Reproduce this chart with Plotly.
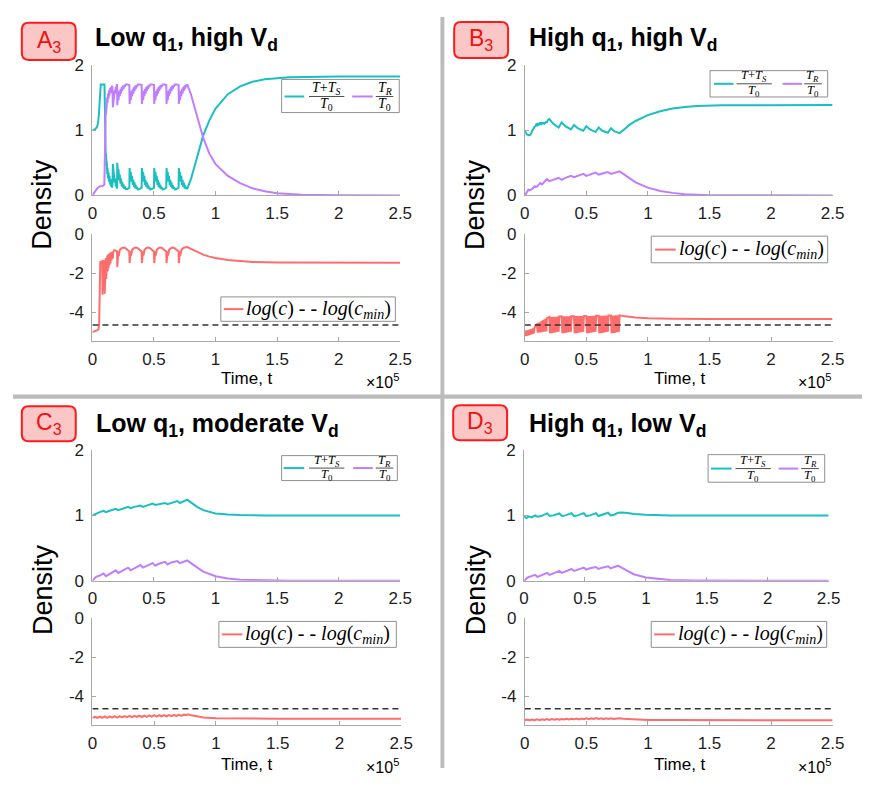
import plotly.graph_objects as go

# page is 882x786; the browser's default 8px body margin surrounds the figure
PAGE_W, PAGE_H, PAD = 882, 786, 8
W, H = PAGE_W - 2 * PAD, PAGE_H - 2 * PAD

# ---------------- data (time in units of 1e5) ----------------
a_cyan = [(0.000,1.00),(0.020,1.01),(0.035,1.04),(0.045,1.10),(0.052,1.22),(0.058,1.45),(0.063,1.64),(0.068,1.70),(0.098,1.70),
    (0.101,1.24),(0.103,1.20),(0.104,0.88),(0.106,0.91),(0.108,0.60),(0.111,0.64),(0.114,0.45),(0.117,0.52),(0.120,0.33),(0.123,0.42),
    (0.127,0.26),(0.131,0.35),(0.135,0.21),(0.139,0.30),(0.143,0.17),(0.147,0.25),(0.151,0.14),(0.155,0.21),(0.159,0.12),(0.163,0.17),
    (0.166,0.48),(0.172,0.30),(0.176,0.36),(0.181,0.20),(0.185,0.26),(0.190,0.14),(0.194,0.18),(0.198,0.12),
    (0.200,0.12),(0.202,0.50),(0.208,0.30),(0.212,0.40),(0.218,0.23),(0.222,0.32),(0.228,0.18),(0.232,0.26),(0.238,0.14),(0.242,0.21),(0.248,0.12),(0.252,0.17),(0.258,0.10),(0.262,0.14),(0.270,0.10),(0.285,0.10),(0.298,0.11),
    (0.300,0.12),(0.302,0.42),(0.308,0.27),(0.312,0.36),(0.318,0.21),(0.322,0.30),(0.328,0.16),(0.332,0.24),(0.338,0.13),(0.342,0.20),(0.348,0.11),(0.352,0.16),(0.358,0.10),(0.362,0.13),(0.370,0.09),(0.385,0.10),(0.398,0.11),
    (0.400,0.12),(0.402,0.42),(0.408,0.27),(0.412,0.36),(0.418,0.21),(0.422,0.30),(0.428,0.16),(0.432,0.24),(0.438,0.13),(0.442,0.20),(0.448,0.11),(0.452,0.16),(0.458,0.10),(0.462,0.13),(0.470,0.09),(0.485,0.10),(0.498,0.11),
    (0.500,0.12),(0.502,0.42),(0.508,0.27),(0.512,0.36),(0.518,0.21),(0.522,0.30),(0.528,0.16),(0.532,0.24),(0.538,0.13),(0.542,0.20),(0.548,0.11),(0.552,0.16),(0.558,0.10),(0.562,0.13),(0.570,0.09),(0.585,0.10),(0.598,0.11),
    (0.600,0.12),(0.602,0.42),(0.608,0.27),(0.612,0.36),(0.618,0.21),(0.622,0.30),(0.628,0.16),(0.632,0.24),(0.638,0.13),(0.642,0.20),(0.648,0.11),(0.652,0.16),(0.658,0.10),(0.662,0.13),(0.670,0.09),(0.685,0.10),(0.698,0.11),
    (0.700,0.12),(0.702,0.42),(0.708,0.27),(0.712,0.36),(0.718,0.21),(0.722,0.30),(0.728,0.16),(0.732,0.24),(0.738,0.13),(0.742,0.20),(0.748,0.11),(0.752,0.16),(0.758,0.10),(0.762,0.13),(0.770,0.10),
    (0.800,0.25),(0.850,0.60),(0.900,0.92),(0.950,1.15),(1.000,1.33),(1.100,1.55),(1.200,1.67),(1.300,1.74),(1.400,1.78),(1.600,1.81),(2.000,1.82),(2.500,1.82)]

a_purple = [(0.000,0.00),(0.020,0.06),(0.040,0.11),(0.060,0.14),(0.090,0.15),(0.097,0.17),(0.100,0.58),(0.102,0.60),(0.104,0.98),(0.106,0.95),
    (0.108,1.30),(0.111,1.24),(0.114,1.42),(0.117,1.36),(0.120,1.50),(0.123,1.42),(0.127,1.56),(0.131,1.48),(0.135,1.61),(0.139,1.53),
    (0.143,1.64),(0.147,1.57),(0.151,1.66),(0.155,1.60),(0.159,1.68),(0.163,1.64),(0.166,1.35),(0.172,1.52),(0.176,1.46),(0.181,1.61),
    (0.185,1.56),(0.190,1.66),(0.194,1.63),(0.198,1.69),
    (0.200,1.69),(0.202,1.38),(0.208,1.55),(0.212,1.46),(0.218,1.60),(0.222,1.52),(0.228,1.63),(0.232,1.56),(0.238,1.66),(0.242,1.60),(0.248,1.68),(0.252,1.63),(0.258,1.69),(0.262,1.66),(0.270,1.70),(0.285,1.70),(0.298,1.70),
    (0.300,1.69),(0.302,1.40),(0.308,1.55),(0.312,1.46),(0.318,1.60),(0.322,1.52),(0.328,1.63),(0.332,1.56),(0.338,1.66),(0.342,1.60),(0.348,1.68),(0.352,1.63),(0.358,1.69),(0.362,1.66),(0.370,1.70),(0.385,1.70),(0.398,1.70),
    (0.400,1.69),(0.402,1.40),(0.408,1.55),(0.412,1.46),(0.418,1.60),(0.422,1.52),(0.428,1.63),(0.432,1.56),(0.438,1.66),(0.442,1.60),(0.448,1.68),(0.452,1.63),(0.458,1.69),(0.462,1.66),(0.470,1.70),(0.485,1.70),(0.498,1.70),
    (0.500,1.69),(0.502,1.40),(0.508,1.55),(0.512,1.46),(0.518,1.60),(0.522,1.52),(0.528,1.63),(0.532,1.56),(0.538,1.66),(0.542,1.60),(0.548,1.68),(0.552,1.63),(0.558,1.69),(0.562,1.66),(0.570,1.70),(0.585,1.70),(0.598,1.70),
    (0.600,1.69),(0.602,1.40),(0.608,1.55),(0.612,1.46),(0.618,1.60),(0.622,1.52),(0.628,1.63),(0.632,1.56),(0.638,1.66),(0.642,1.60),(0.648,1.68),(0.652,1.63),(0.658,1.69),(0.662,1.66),(0.670,1.70),(0.685,1.70),(0.698,1.70),
    (0.700,1.69),(0.702,1.40),(0.708,1.55),(0.712,1.46),(0.718,1.60),(0.722,1.52),(0.728,1.63),(0.732,1.56),(0.738,1.66),(0.742,1.60),(0.748,1.68),(0.752,1.63),(0.758,1.69),(0.762,1.66),(0.770,1.70),
    (0.800,1.55),(0.850,1.22),(0.900,0.88),(0.950,0.64),(1.000,0.48),(1.100,0.30),(1.200,0.19),(1.300,0.11),(1.400,0.065),(1.500,0.035),(1.700,0.012),(2.000,0.003),(2.500,0.0)]

a_logc = [(0.000,-5.02),(0.020,-4.98),(0.040,-4.92),(0.050,-4.86),(0.055,-4.60),(0.058,-3.50),(0.061,-2.20),(0.064,-1.42),(0.080,-1.38),
    (0.082,-3.10),(0.085,-1.42),(0.088,-2.90),(0.091,-1.38),(0.094,-2.60),(0.097,-1.33),(0.100,-3.05),(0.103,-1.28),(0.106,-2.60),(0.109,-1.22),
    (0.112,-2.30),(0.115,-1.16),(0.118,-2.10),(0.121,-1.10),(0.124,-1.90),(0.127,-1.05),(0.130,-1.75),(0.134,-1.00),(0.138,-1.60),(0.142,-0.96),
    (0.146,-1.50),(0.150,-0.93),(0.155,-1.35),(0.160,-0.90),(0.165,-1.25),(0.170,-0.88),(0.180,-0.82),(0.190,-0.84),
    (0.200,-0.88),(0.202,-1.68),(0.205,-0.95),(0.208,-1.35),(0.211,-0.88),(0.214,-1.12),(0.217,-0.83),(0.220,-0.97),(0.223,-0.80),(0.235,-0.73),(0.250,-0.68),(0.265,-0.70),(0.280,-0.76),(0.298,-0.86),
    (0.300,-0.88),(0.302,-1.48),(0.305,-0.95),(0.308,-1.28),(0.311,-0.88),(0.314,-1.10),(0.317,-0.83),(0.320,-0.97),(0.323,-0.80),(0.335,-0.73),(0.350,-0.68),(0.365,-0.70),(0.380,-0.76),(0.398,-0.86),
    (0.400,-0.88),(0.402,-1.48),(0.405,-0.95),(0.408,-1.28),(0.411,-0.88),(0.414,-1.10),(0.417,-0.83),(0.420,-0.97),(0.423,-0.80),(0.435,-0.73),(0.450,-0.68),(0.465,-0.70),(0.480,-0.76),(0.498,-0.86),
    (0.500,-0.88),(0.502,-1.48),(0.505,-0.95),(0.508,-1.28),(0.511,-0.88),(0.514,-1.10),(0.517,-0.83),(0.520,-0.97),(0.523,-0.80),(0.535,-0.73),(0.550,-0.68),(0.565,-0.70),(0.580,-0.76),(0.598,-0.86),
    (0.600,-0.88),(0.602,-1.48),(0.605,-0.95),(0.608,-1.28),(0.611,-0.88),(0.614,-1.10),(0.617,-0.83),(0.620,-0.97),(0.623,-0.80),(0.635,-0.73),(0.650,-0.68),(0.665,-0.70),(0.680,-0.76),(0.698,-0.86),
    (0.700,-0.88),(0.702,-1.48),(0.705,-0.95),(0.708,-1.28),(0.711,-0.88),(0.714,-1.10),(0.717,-0.83),(0.720,-0.97),(0.723,-0.80),(0.735,-0.73),(0.750,-0.68),(0.770,-0.66),
    (0.800,-0.76),(0.850,-0.92),(0.900,-1.05),(0.950,-1.15),(1.000,-1.22),(1.100,-1.32),(1.200,-1.38),(1.300,-1.42),(1.500,-1.45),(2.000,-1.46),(2.500,-1.46)]

b_cyan = [(0.000,0.99),(0.010,0.95),(0.020,0.93),(0.040,0.92),(0.050,0.94),(0.060,0.99),(0.070,1.03),(0.080,1.05),(0.090,1.07),
    (0.095,1.10),(0.100,1.06),(0.105,1.11),(0.110,1.07),(0.115,1.11),(0.120,1.08),(0.125,1.12),(0.130,1.08),(0.135,1.12),(0.140,1.09),
    (0.145,1.12),(0.150,1.09),(0.155,1.12),(0.160,1.10),(0.170,1.12),(0.180,1.12),(0.190,1.16),(0.200,1.17),
    (0.230,1.10),(0.275,1.04),(0.300,1.12),(0.330,1.06),(0.375,1.01),(0.400,1.08),(0.430,1.03),(0.475,0.99),(0.500,1.06),
    (0.530,1.01),(0.575,0.97),(0.600,1.04),(0.630,0.99),(0.675,0.96),(0.700,1.03),(0.730,0.98),(0.770,0.955),
    (0.800,1.00),(0.850,1.08),(0.900,1.14),(0.950,1.19),(1.000,1.23),(1.100,1.29),(1.200,1.33),(1.300,1.355),(1.400,1.37),(1.600,1.38),(2.000,1.385),(2.500,1.385)]

b_purple = [(0.000,0.00),(0.015,0.05),(0.030,0.09),(0.040,0.08),(0.060,0.10),(0.080,0.14),(0.090,0.13),(0.100,0.14),(0.125,0.19),(0.140,0.17),
    (0.180,0.25),(0.200,0.22),(0.230,0.24),(0.275,0.27),(0.300,0.24),(0.330,0.27),(0.375,0.30),(0.400,0.28),(0.430,0.30),(0.475,0.33),
    (0.500,0.30),(0.530,0.32),(0.575,0.35),(0.600,0.32),(0.630,0.34),(0.675,0.36),(0.700,0.33),(0.730,0.35),(0.770,0.37),
    (0.800,0.33),(0.850,0.26),(0.900,0.20),(1.000,0.12),(1.100,0.07),(1.200,0.04),(1.300,0.02),(1.500,0.005),(2.000,0.0),(2.500,0.0)]

b_logc = [(0.000,-4.95),(0.005,-5.22),(0.010,-4.94),(0.015,-5.21),(0.020,-4.93),(0.025,-5.20),(0.030,-4.91),(0.035,-5.18),(0.040,-4.89),
    (0.045,-5.16),(0.050,-4.87),(0.055,-5.14),(0.060,-4.85),(0.065,-5.11),(0.070,-4.82),(0.075,-5.08),(0.078,-4.80),(0.090,-4.68),
    (0.100,-4.60),(0.105,-5.05),(0.110,-4.56),(0.115,-5.04),(0.120,-4.52),(0.125,-5.03),(0.130,-4.48),(0.135,-5.02),(0.140,-4.44),
    (0.145,-5.01),(0.150,-4.40),(0.155,-5.00),(0.160,-4.36),(0.165,-4.99),(0.170,-4.33),(0.175,-4.98),(0.180,-4.30),
    (0.200,-4.24),(0.205,-5.08),(0.210,-4.24),(0.215,-5.07),(0.220,-4.24),(0.225,-5.06),(0.230,-4.23),(0.235,-5.05),(0.240,-4.23),
    (0.245,-5.04),(0.250,-4.23),(0.255,-5.02),(0.260,-4.23),(0.265,-5.01),(0.270,-4.22),(0.275,-5.00),(0.280,-4.22),
    (0.300,-4.21),(0.305,-5.08),(0.310,-4.21),(0.315,-5.07),(0.320,-4.21),(0.325,-5.06),(0.330,-4.21),(0.335,-5.05),(0.340,-4.21),
    (0.345,-5.04),(0.350,-4.21),(0.355,-5.02),(0.360,-4.21),(0.365,-5.01),(0.370,-4.20),(0.375,-5.00),(0.380,-4.20),
    (0.400,-4.20),(0.405,-5.08),(0.410,-4.20),(0.415,-5.07),(0.420,-4.20),(0.425,-5.06),(0.430,-4.20),(0.435,-5.05),(0.440,-4.20),
    (0.445,-5.04),(0.450,-4.20),(0.455,-5.02),(0.460,-4.19),(0.465,-5.01),(0.470,-4.19),(0.475,-5.00),(0.480,-4.19),
    (0.500,-4.19),(0.505,-5.08),(0.510,-4.19),(0.515,-5.07),(0.520,-4.19),(0.525,-5.06),(0.530,-4.19),(0.535,-5.05),(0.540,-4.19),
    (0.545,-5.04),(0.550,-4.18),(0.555,-5.02),(0.560,-4.18),(0.565,-5.01),(0.570,-4.18),(0.575,-5.00),(0.580,-4.18),
    (0.600,-4.18),(0.605,-5.08),(0.610,-4.18),(0.615,-5.07),(0.620,-4.18),(0.625,-5.06),(0.630,-4.18),(0.635,-5.05),(0.640,-4.18),
    (0.645,-5.04),(0.650,-4.17),(0.655,-5.02),(0.660,-4.17),(0.665,-5.01),(0.670,-4.17),(0.675,-5.00),(0.680,-4.17),
    (0.700,-4.17),(0.705,-5.08),(0.710,-4.17),(0.715,-5.07),(0.720,-4.17),(0.725,-5.06),(0.730,-4.17),(0.735,-5.05),(0.740,-4.16),
    (0.745,-5.03),(0.750,-4.16),(0.755,-5.02),(0.760,-4.16),(0.765,-5.00),(0.770,-4.16),
    (0.800,-4.19),(0.850,-4.23),(0.900,-4.27),(1.000,-4.31),(1.100,-4.33),(1.200,-4.34),(1.500,-4.35),(2.500,-4.35)]

c_cyan = [(0.00,1.00),(0.03,1.03),(0.06,1.05),(0.09,1.07),(0.11,1.05),(0.14,1.07),(0.19,1.10),(0.21,1.08),(0.24,1.10),(0.29,1.13),
    (0.31,1.11),(0.34,1.13),(0.39,1.15),(0.41,1.13),(0.44,1.15),(0.49,1.18),(0.51,1.16),(0.54,1.17),(0.59,1.19),(0.61,1.17),
    (0.64,1.19),(0.69,1.22),(0.71,1.19),(0.74,1.21),(0.77,1.24),
    (0.80,1.20),(0.85,1.13),(0.90,1.08),(0.95,1.05),(1.00,1.03),(1.10,1.015),(1.20,1.005),(1.40,1.00),(2.50,1.00)]

c_purple = [(0.00,0.00),(0.03,0.06),(0.06,0.08),(0.09,0.11),(0.11,0.07),(0.14,0.10),(0.19,0.16),(0.21,0.12),(0.24,0.15),(0.29,0.20),
    (0.31,0.16),(0.34,0.19),(0.39,0.24),(0.41,0.20),(0.44,0.23),(0.49,0.27),(0.51,0.23),(0.54,0.26),(0.59,0.29),(0.61,0.25),
    (0.64,0.28),(0.69,0.30),(0.71,0.27),(0.74,0.29),(0.77,0.31),
    (0.80,0.27),(0.85,0.20),(0.90,0.14),(1.00,0.07),(1.10,0.035),(1.20,0.015),(1.40,0.003),(1.60,0.0),(2.50,0.0)]

c_logc = [(0.00,-5.12),(0.02,-5.06),(0.04,-5.12),(0.06,-5.05),(0.08,-5.11),(0.10,-5.04),(0.12,-5.11),(0.14,-5.04),(0.16,-5.10),
    (0.18,-5.03),(0.20,-5.10),(0.22,-5.03),(0.24,-5.09),(0.26,-5.02),(0.28,-5.08),(0.30,-5.01),(0.32,-5.08),(0.34,-5.01),(0.36,-5.07),
    (0.38,-5.00),(0.40,-5.07),(0.42,-5.00),(0.44,-5.06),(0.46,-4.99),(0.48,-5.05),(0.50,-4.98),(0.52,-5.05),(0.54,-4.98),(0.56,-5.04),
    (0.58,-4.97),(0.60,-5.04),(0.62,-4.97),(0.64,-5.03),(0.66,-4.96),(0.68,-5.02),(0.70,-4.95),(0.72,-5.01),(0.74,-4.95),(0.76,-4.97),
    (0.77,-4.93),(0.80,-4.98),(0.85,-5.05),(0.90,-5.09),(1.00,-5.13),(1.20,-5.15),(1.50,-5.16),(2.50,-5.16)]

d_cyan = [(0.00,0.98),(0.02,0.96),(0.04,0.985),(0.06,0.97),(0.09,1.00),(0.11,0.98),(0.14,0.99),(0.19,1.03),(0.21,0.99),(0.24,1.00),
    (0.29,1.03),(0.31,0.99),(0.34,1.00),(0.39,1.035),(0.41,0.99),(0.44,1.00),(0.49,1.035),(0.51,0.99),(0.54,1.00),(0.59,1.035),
    (0.61,0.99),(0.64,1.01),(0.69,1.04),(0.71,1.00),(0.74,1.01),(0.77,1.04),
    (0.80,1.045),(0.85,1.035),(0.90,1.02),(1.00,1.01),(1.20,1.00),(2.50,1.00)]

d_purple = [(0.00,0.00),(0.03,0.05),(0.06,0.07),(0.09,0.09),(0.11,0.06),(0.14,0.08),(0.19,0.12),(0.21,0.09),(0.24,0.11),(0.29,0.15),
    (0.31,0.12),(0.34,0.14),(0.39,0.18),(0.41,0.15),(0.44,0.17),(0.49,0.20),(0.51,0.17),(0.54,0.19),(0.59,0.21),(0.61,0.18),
    (0.64,0.20),(0.69,0.22),(0.71,0.19),(0.74,0.21),(0.77,0.23),
    (0.80,0.20),(0.85,0.15),(0.90,0.10),(1.00,0.05),(1.10,0.025),(1.20,0.01),(1.40,0.002),(2.50,0.0)]

d_logc = [(0.00,-5.24),(0.02,-5.20),(0.04,-5.24),(0.06,-5.20),(0.08,-5.23),(0.10,-5.19),(0.12,-5.23),(0.14,-5.19),(0.16,-5.22),
    (0.18,-5.18),(0.20,-5.22),(0.22,-5.18),(0.24,-5.21),(0.26,-5.17),(0.28,-5.21),(0.30,-5.17),(0.32,-5.20),(0.34,-5.16),(0.36,-5.20),
    (0.38,-5.16),(0.40,-5.19),(0.42,-5.15),(0.44,-5.19),(0.46,-5.15),(0.48,-5.18),(0.50,-5.14),(0.52,-5.18),(0.54,-5.14),(0.56,-5.17),
    (0.58,-5.13),(0.60,-5.17),(0.62,-5.14),(0.64,-5.18),(0.66,-5.14),(0.68,-5.17),(0.70,-5.14),(0.72,-5.17),(0.74,-5.15),(0.77,-5.13),
    (0.80,-5.16),(0.90,-5.20),(1.00,-5.22),(1.20,-5.23),(1.50,-5.24),(2.50,-5.24)]

log_cmin = -4.65
t_span = [0, 2.5]

x_tickvals = [0, 0.5, 1, 1.5, 2, 2.5]
x_ticktext = ['0', '0.5', '1', '1.5', '2', '2.5']
top_tickvals = [0, 1, 2]
top_ticktext = ['0', '1', '2']
bot_tickvals = [-4, -2, 0]
bot_ticktext = ['-4', '-2', '0']

panel_letters = ['A', 'B', 'C', 'D']
panel_titles = ['Low q<sub>1</sub>, high V<sub>d</sub>', 'High q<sub>1</sub>, high V<sub>d</sub>',
                'Low q<sub>1</sub>, moderate V<sub>d</sub>', 'High q<sub>1</sub>, low V<sub>d</sub>']
series = [(a_cyan, a_purple, a_logc), (b_cyan, b_purple, b_logc), (c_cyan, c_purple, c_logc), (d_cyan, d_purple, d_logc)]

# ---------------- styling ----------------
CYAN = '#1abfc0'
PURPLE = '#c07dff'
RED = '#ff6c6c'
AXC = '#a8a8a8'
TXT = '#1e1e1e'
SANS = 'Liberation Sans'
SERIF = 'Liberation Serif'

# page pixel -> figure paper coordinates
def X(px): return (px - PAD) / W
def Y(py): return 1 - (py - PAD) / H

geo = [
    dict(top_x=(89, 403), bot_x=(89, 403), top_y=(57, 191), bot_y=(230.7, 340.7), ox=0, oy=0),
    dict(top_x=(530, 844), bot_x=(530, 844), top_y=(57, 191), bot_y=(230.7, 340.7), ox=441, oy=0),
    dict(top_x=(89, 403), bot_x=(89, 404), top_y=(452, 586), bot_y=(624.3, 734.3), ox=0, oy=395),
    dict(top_x=(529.3, 840), bot_x=(530, 844), top_y=(452, 586), bot_y=(624.3, 734.3), ox=441, oy=395),
]

fig = go.Figure()
layout = dict(width=W, height=H, margin=dict(l=0, r=0, t=0, b=0), paper_bgcolor='white', plot_bgcolor='white',
              showlegend=False)

def axis_common():
    return dict(showline=True, linecolor=AXC, linewidth=1, ticks='inside', ticklen=4, tickcolor=AXC,
                showgrid=False, zeroline=False, mirror=False,
                tickfont=dict(family=SANS, size=17, color=TXT))

idx = 0
for p in range(4):
    g = geo[p]
    cyan, purple, logc = series[p]
    for part in ('top', 'bot'):
        idx += 1
        sx = '' if idx == 1 else str(idx)
        xa = axis_common()
        xa.update(domain=[X(g[part + '_x'][0]), X(g[part + '_x'][1])], range=[0, 2.5], anchor='y' + sx,
                  tickvals=x_tickvals, ticktext=x_ticktext, ticklabelstandoff=2)
        ya = axis_common()
        yt, yb = g[part + '_y']
        if part == 'top':
            ya.update(domain=[Y(yb), Y(yt)], range=[0, 2], tickvals=top_tickvals, ticktext=top_ticktext)
        else:
            ya.update(domain=[Y(yb), Y(yt)], range=[-5.5, 0], tickvals=bot_tickvals, ticktext=bot_ticktext)
        ya.update(anchor='x' + sx, ticklabelstandoff=4)
        layout['xaxis' + sx] = xa
        layout['yaxis' + sx] = ya
        if part == 'top':
            fig.add_trace(go.Scatter(x=[q[0] for q in cyan], y=[q[1] for q in cyan], mode='lines',
                                     line=dict(color=CYAN, width=2), xaxis='x' + sx, yaxis='y' + sx))
            fig.add_trace(go.Scatter(x=[q[0] for q in purple], y=[q[1] for q in purple], mode='lines',
                                     line=dict(color=PURPLE, width=2), xaxis='x' + sx, yaxis='y' + sx))
        else:
            fig.add_trace(go.Scatter(x=[q[0] for q in logc], y=[q[1] for q in logc], mode='lines',
                                     line=dict(color=RED, width=2), xaxis='x' + sx, yaxis='y' + sx))
            fig.add_trace(go.Scatter(x=t_span, y=[log_cmin, log_cmin], mode='lines',
                                     line=dict(color='#333333', width=1.5, dash='6px,4px'),
                                     xaxis='x' + sx, yaxis='y' + sx))

shapes = []
annotations = []

def ann(text, x, y, size, color=TXT, xanchor='center', yanchor='middle', family=SANS, angle=0, weight='normal'):
    annotations.append(dict(text=text, x=X(x), y=Y(y), xref='paper', yref='paper', showarrow=False,
                            xanchor=xanchor, yanchor=yanchor, textangle=angle, align=xanchor,
                            borderpad=0, borderwidth=0,
                            font=dict(family=family, size=size, color=color, weight=weight)))

def hline(x0, x1, y, color, width=2):
    shapes.append(dict(type='line', xref='paper', yref='paper', x0=X(x0), x1=X(x1), y0=Y(y), y1=Y(y),
                       line=dict(color=color, width=width)))

def rect(x0, y0, x1, y1, fill, color, width=1):
    shapes.append(dict(type='rect', xref='paper', yref='paper', x0=X(x0), x1=X(x1), y0=Y(y1), y1=Y(y0),
                       fillcolor=fill, line=dict(color=color, width=width), layer='above'))

def rounded(x0, y0, x1, y1, r, fill, color, width=2):
    path = (f"M {X(x0+r)},{Y(y0)} L {X(x1-r)},{Y(y0)} Q {X(x1)},{Y(y0)} {X(x1)},{Y(y0+r)} "
            f"L {X(x1)},{Y(y1-r)} Q {X(x1)},{Y(y1)} {X(x1-r)},{Y(y1)} "
            f"L {X(x0+r)},{Y(y1)} Q {X(x0)},{Y(y1)} {X(x0)},{Y(y1-r)} "
            f"L {X(x0)},{Y(y0+r)} Q {X(x0)},{Y(y0)} {X(x0+r)},{Y(y0)} Z")
    shapes.append(dict(type='path', xref='paper', yref='paper', path=path, fillcolor=fill,
                       line=dict(color=color, width=width)))

# panel dividers
BORD = '#bcbcbc'
shapes.append(dict(type='rect', xref='paper', yref='paper', x0=X(444), x1=X(448), y0=0, y1=1, fillcolor=BORD, line_width=0))
shapes.append(dict(type='rect', xref='paper', yref='paper', x0=0, x1=1, y0=Y(399.5), y1=Y(395), fillcolor=BORD, line_width=0))

# panel label boxes and titles
label_boxes = [(17, 14, 72, 52), (458, 13, 513, 50), (17, 407, 72, 443), (457, 406, 512, 442)]
title_pos = [(92, 31), (534, 31), (93, 426), (534, 426)]
for p in range(4):
    x0, y0, x1, y1 = label_boxes[p]
    rounded(x0, y0, x1, y1, 7, '#fbc6c6', '#ff1a1a', 2)
    ann(panel_letters[p] + '<sub>3</sub>', (x0 + x1) / 2, (y0 + y1) / 2, 23, color='#ee1111')
    ann(panel_titles[p], title_pos[p][0], title_pos[p][1], 25, color='#000000', xanchor='left', weight='bold')

# axis labels
for p in range(4):
    g = geo[p]
    ox, oy = g['ox'], g['oy']
    ann('Density', 38 + ox + (1 if p % 2 else 0), 200 + oy, 27, color='#000000', angle=-90)
    ann('Time, t', 247 + ox, 379 + oy, 17, color='#000000')
    ann('×10<sup>5</sup>', 385 + ox, 381 + oy, 16, color='#000000')

# top legends: box, seg1, frac1 center, seg2, frac2 center, bar y, half-gap, font
top_legends = [
    ((282, 72, 402, 106), (285, 305), 328, (354, 375), 387, 89.5, 8.5, 14),
    ((719, 63, 839, 90), (723, 743), 764, (793, 813), 824, 76.5, 7.5, 12.5),
    ((282, 457.7, 400, 483.3), (284, 305), 328, (355, 375), 387, 470.5, 7.5, 12.5),
    ((717, 456.7, 836, 485), (720, 741), 763, (789, 809), 821, 471, 7.5, 12.5),
]
for box, s1, f1, s2, f2, by, k, fs in top_legends:
    rect(box[0], box[1], box[2], box[3], 'white', '#8f8f8f', 1)
    hline(s1[0], s1[1], by, CYAN, 2)
    hline(s2[0], s2[1], by, PURPLE, 2)
    ann('<i>T</i>+<i>T</i><sub><i>S</i></sub>', f1, by - k, fs, color='#000000', family=SERIF)
    ann('<i>T</i><sub>0</sub>', f1, by + k, fs, color='#000000', family=SERIF)
    hline(f1 - 18, f1 + 18, by, '#000000', 0.7)
    ann('<i>T</i><sub><i>R</i></sub>', f2, by - k, fs, color='#000000', family=SERIF)
    ann('<i>T</i><sub>0</sub>', f2, by + k, fs, color='#000000', family=SERIF)
    hline(f2 - 9, f2 + 9, by, '#000000', 0.7)

bot_legends = [
    ((220, 295, 398, 320), (223, 243), 246, 307.5),
    ((659, 232.7, 839, 260), (663, 684), 687, 246.5),
    ((218, 627.7, 399, 654.3), (221, 242), 245, 641),
    ((659, 627.7, 838, 654.3), (662, 683), 686, 641),
]
for box, seg, tx, ym in bot_legends:
    rect(box[0], box[1], box[2], box[3], 'white', '#8f8f8f', 1)
    hline(seg[0], seg[1], ym, RED, 2)
    ann('<i>log</i>(<i>c</i>) - - <i>log</i>(<i>c</i><sub><i>min</i></sub>)', tx, ym, 20,
        color='#000000', xanchor='left', family=SERIF)

layout['shapes'] = shapes
layout['annotations'] = annotations
fig.update_layout(**layout)
fig.write_html('out.html', config={'displayModeBar': False})
